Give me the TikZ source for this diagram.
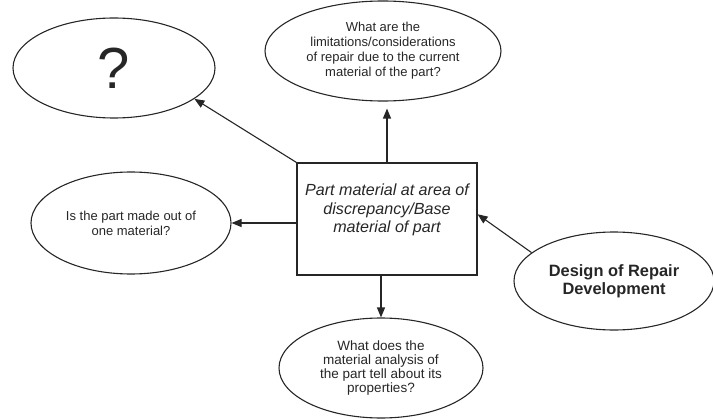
\documentclass[tikz,border=0pt]{standalone}
\usepackage{fontspec}
\setmainfont{Liberation Sans}
\usetikzlibrary{shapes.geometric,arrows.meta}
\begin{document}
\begin{tikzpicture}[x=1pt,y=-1pt,
  bubble/.style={draw=black!85, line width=1.1pt, ellipse, inner sep=0pt,
    align=center, text=black!85, font=\fontsize{13}{15}\selectfont},
  box/.style={draw=black!85, line width=1.1pt, rectangle, inner sep=0pt},
  arr/.style={draw=black!85, line width=1.1pt, -{Triangle[length=10pt,width=8pt]}}]
\useasboundingbox (0,0) rectangle (713,420);

% central topic box and its caption
\node[box, minimum width=180pt, minimum height=112pt] (box) at (387,219) {};
\node[align=center, text=black!85, font=\fontsize{16.1}{18.5}\selectfont\itshape]
  (boxtext) at (387,210) {Part material at area of\\discrepancy/Base\\material of part};

% surrounding questions
\node[bubble, minimum width=202pt, minimum height=100pt,
  font=\fontsize{58}{60}\selectfont] (q) at (114,68) {?};
\node[bubble, minimum width=236pt, minimum height=100pt] (top) at (383,51)
  {What are the\\limitations/considerations\\of repair due to the current\\material of the part?};
\node[bubble, minimum width=200pt, minimum height=102pt] (left) at (131,223)
  {Is the part made out of\\one material?};
\node[bubble, minimum width=204pt, minimum height=100pt,
  font=\fontsize{13.5}{14}\selectfont] (bot) at (381,368)
  {What does the\\material analysis of\\the part tell about its\\properties?};
\node[bubble, minimum width=200pt, minimum height=98pt,
  font=\fontsize{16.4}{18}\selectfont\bfseries] (right) at (614,281)
  {Design of Repair\\Development};

% connectors
\draw[arr] (box.north west) -- (q.-21);
\draw[arr, shorten >=7pt] (box.north) -- (box.north |- top.south);
\draw[arr] (box.west |- left.east) -- (left.east);
\draw[arr] (bot.north |- box.south) -- (bot.north);
\draw[arr] (right.161) -- (box.3);
\end{tikzpicture}
\end{document}
